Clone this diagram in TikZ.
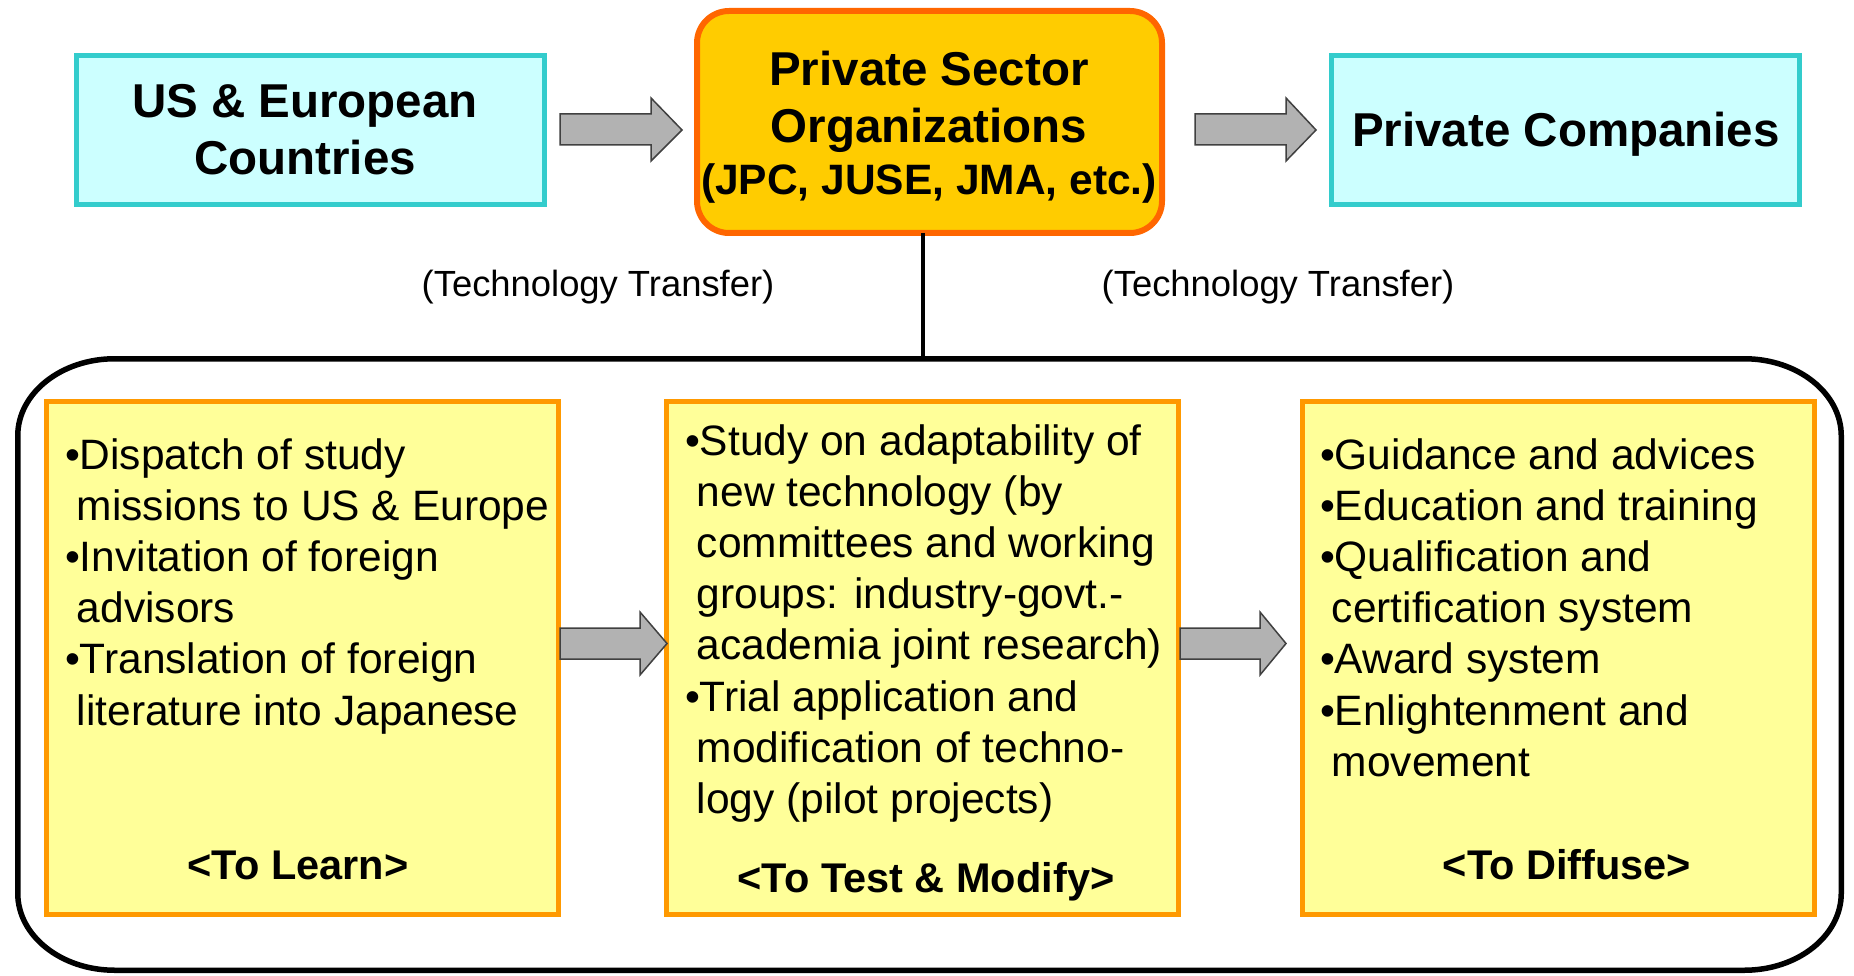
\documentclass[tikz,border=0pt]{standalone}
\usepackage{fontspec}
\setmainfont{Liberation Sans}
\usetikzlibrary{calc}
\definecolor{cyanfill}{HTML}{CCFFFF}
\definecolor{cyanline}{HTML}{33CCCC}
\definecolor{orgfill}{HTML}{FFCC00}
\definecolor{orgline}{HTML}{FF6600}
\definecolor{yelfill}{HTML}{FFFF99}
\definecolor{yelline}{HTML}{FF9900}
\definecolor{arrfill}{HTML}{B2B2B2}
\definecolor{arrline}{HTML}{404040}
\newcommand\hdfont{\fontsize{47.5}{57}\selectfont\bfseries}
\newcommand\subhdfont{\fontsize{42.5}{51}\selectfont\bfseries}
\newcommand\bodyfont{\fontsize{42.5}{51.2}\selectfont}
\newcommand\labfont{\fontsize{41.5}{50}\selectfont\bfseries}
\newcommand\ttrfont{\fontsize{36.4}{44}\selectfont}
\begin{document}
\begin{tikzpicture}[x=1pt,y=-1pt,
  cyanbox/.style={draw=cyanline, fill=cyanfill, line width=5pt, inner sep=0pt, outer sep=0pt,
    minimum width=468pt, minimum height=149pt},
  orgbox/.style={draw=orgline, fill=orgfill, line width=6pt, rounded corners=32pt, inner sep=0pt,
    outer sep=0pt, minimum width=465pt, minimum height=222pt},
  yelbox/.style={draw=yelline, fill=yelfill, line width=5pt, inner sep=0pt, outer sep=0pt,
    minimum width=512pt, minimum height=513pt},
  txt/.style={inner sep=0pt, outer sep=0pt, anchor=base},
  bodytxt/.style={inner sep=0pt, outer sep=0pt, anchor=base west, font=\bodyfont},
  garrow/.style={draw=arrline, fill=arrfill, line width=1.5pt, line join=miter},
  frame/.style={draw=black, line width=5.5pt},
  conn/.style={draw=black, line width=4pt}]
\useasboundingbox (0,0) rectangle (1854,976);

% outer frame with elliptical corners
\draw[frame] (114.75,358.75) -- (1744.25,358.75)
  .. controls (1797.85,358.75) and (1841.25,393.25) .. (1841.25,435.75)
  -- (1841.25,893.25)
  .. controls (1841.25,935.75) and (1797.85,970.25) .. (1744.25,970.25)
  -- (114.75,970.25)
  .. controls (61.15,970.25) and (17.75,935.75) .. (17.75,893.25)
  -- (17.75,435.75)
  .. controls (17.75,393.25) and (61.15,358.75) .. (114.75,358.75) -- cycle;

% top row
\node[cyanbox] (us) at (310.5,130) {};
\node[orgbox] (org) at (929.5,122) {};
\node[cyanbox] (pc) at (1565.5,130) {};

\node[txt, font=\hdfont] (ustxt) at (305,118)
  {\begin{tabular}[t]{@{}c@{}}US \& European\\Countries\end{tabular}};
\node[txt, font=\hdfont] (orgtxt) at (929,86)
  {\begin{tabular}[t]{@{}c@{}}Private Sector\\Organizations\\[-5pt]{\subhdfont (JPC, JUSE, JMA, etc.)}\end{tabular}};
\node[txt, font=\hdfont] (pctxt) at (1566,147) {Private Companies};

\node[txt, font=\ttrfont] (tt1) at (598,296) {(Technology Transfer)};
\node[txt, font=\ttrfont] (tt2) at (1278,296) {(Technology Transfer)};

% connector
\coordinate (ftop) at (923,358.75);
\draw[conn] (org.south -| ftop) -- (ftop);

% lower boxes
\node[yelbox] (learn) at (302.5,658) {};
\node[yelbox] (test) at (922.5,658) {};
\node[yelbox] (diff) at (1558.5,658) {};

\node[bodytxt] (learntxt) at (65,469)
  {\begin{tabular}[t]{@{}l@{}}•Dispatch of study\\\ missions to US \& Europe\\•Invitation of foreign\\\ advisors\\•Translation of foreign\\\ literature into Japanese\end{tabular}};
\node[bodytxt] (testtxt) at (685,455)
  {\begin{tabular}[t]{@{}l@{}}•Study on adaptability of\\\ new technology (by\\\ committees and working\\\ groups: industry-govt.-\\\ academia joint research)\\•Trial application and\\\ modification of techno-\\\ logy (pilot projects)\end{tabular}};
\node[bodytxt] (difftxt) at (1320,469)
  {\begin{tabular}[t]{@{}l@{}}•Guidance and advices\\•Education and training\\•Qualification and\\\ certification system\\•Award system\\•Enlightenment and\\\ movement\end{tabular}};

\node[txt, font=\labfont] (lab1) at (298,879) {<To Learn>};
\node[txt, font=\labfont] (lab2) at (926,892) {<To Test \& Modify>};
\node[txt, font=\labfont] (lab3) at (1567,879) {<To Diffuse>};

% block arrows
\coordinate (a1) at (560,129.5);
\coordinate (a2) at (1195,129.5);
\coordinate (a3) at (560,643.5);
\coordinate (a4) at (1180,643.5);
\draw[garrow] (a1) ++(0,-15.5) -- ++(91,0) -- ++(0,-16) -- ++(31,32) -- ++(-31,31) -- ++(0,-16) -- ++(-91,0) -- cycle;
\draw[garrow] (a2) ++(0,-15.5) -- ++(91,0) -- ++(0,-16) -- ++(30,32) -- ++(-30,31) -- ++(0,-16) -- ++(-91,0) -- cycle;
\draw[garrow] (a3) ++(0,-15.5) -- ++(80,0) -- ++(0,-16) -- ++(27,31.5) -- ++(-27,31.5) -- ++(0,-16) -- ++(-80,0) -- cycle;
\draw[garrow] (a4) ++(0,-15.5) -- ++(80,0) -- ++(0,-16) -- ++(26,31.5) -- ++(-26,31.5) -- ++(0,-16) -- ++(-80,0) -- cycle;
\end{tikzpicture}
\end{document}
